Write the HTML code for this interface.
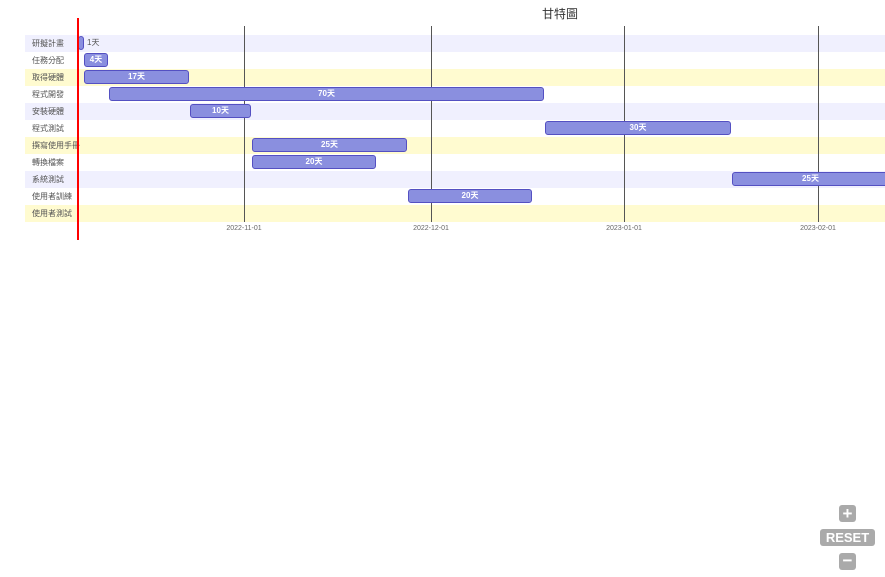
<!DOCTYPE html>
<html><head><meta charset="utf-8"><style>
body{margin:0;width:885px;height:577px;background:#fff;overflow:hidden;position:relative;font-family:"Liberation Sans","Noto Sans CJK TC",sans-serif}
.r{position:absolute;left:25px;width:860px;height:17px}
.l{position:absolute;left:32px;font-size:8px;color:#555;line-height:17px}
.b{position:absolute;height:12px;background:#8a8fdf;border:1.5px solid #5450c2;border-radius:3px;color:#fff;font-size:8px;font-weight:bold;text-align:center;line-height:12px;box-sizing:content-box}
.g{position:absolute;top:26px;height:196px;width:1px;background:#555}
.t{position:absolute;top:225px;font-size:7px;color:#666;width:60px;text-align:center}
.btn{position:absolute;background:#aaa;color:#fff;border-radius:3px;font-weight:bold;text-align:center}
</style></head><body>
<div style="position:absolute;left:520px;top:5px;width:80px;text-align:center;font-size:12px;color:#333">甘特圖</div>
<div class="r" style="top:35px;background:#f0f0fe"></div>
<div class="r" style="top:69px;background:#fffbd0"></div>
<div class="r" style="top:103px;background:#f0f0fe"></div>
<div class="r" style="top:137px;background:#fffbd0"></div>
<div class="r" style="top:171px;background:#f0f0fe"></div>
<div class="r" style="top:205px;background:#fffbd0"></div>
<div class="l" style="top:35px">研擬計畫</div>
<div class="l" style="top:52px">任務分配</div>
<div class="l" style="top:69px">取得硬體</div>
<div class="l" style="top:86px">程式開發</div>
<div class="l" style="top:103px">安裝硬體</div>
<div class="l" style="top:120px">程式測試</div>
<div class="l" style="top:137px">撰寫使用手冊</div>
<div class="l" style="top:154px">轉換檔案</div>
<div class="l" style="top:171px">系統測試</div>
<div class="l" style="top:188px">使用者訓練</div>
<div class="l" style="top:205px">使用者測試</div>
<div class="g" style="left:244px"></div><div class="g" style="left:431px"></div><div class="g" style="left:624px"></div><div class="g" style="left:818px"></div>
<div class="t" style="left:214px">2022-11-01</div><div class="t" style="left:401px">2022-12-01</div><div class="t" style="left:594px">2023-01-01</div><div class="t" style="left:788px">2023-02-01</div>
<div class="b" style="left:78px;top:36px;width:4px"></div>
<div style="position:absolute;left:87px;top:36px;font-size:8px;color:#555;line-height:13px">1天</div>
<div class="b" style="left:84px;top:53px;width:22px">4天</div>
<div class="b" style="left:84px;top:70px;width:103px">17天</div>
<div class="b" style="left:109px;top:87px;width:433px">70天</div>
<div class="b" style="left:190px;top:104px;width:59px">10天</div>
<div class="b" style="left:545px;top:121px;width:184px">30天</div>
<div class="b" style="left:252px;top:138px;width:153px">25天</div>
<div class="b" style="left:252px;top:155px;width:122px">20天</div>
<div class="b" style="left:732px;top:172px;width:155px">25天</div>
<div class="b" style="left:408px;top:189px;width:122px">20天</div>
<div style="position:absolute;left:77px;top:18px;width:1.5px;height:222px;background:#f00"></div>
<div class="btn" style="left:839px;top:505px;width:17px;height:17px;font-size:17px;line-height:17px">+</div>
<div class="btn" style="left:820px;top:529px;width:55px;height:17px;font-size:13px;line-height:17px">RESET</div>
<div class="btn" style="left:839px;top:553px;width:17px;height:17px;font-size:17px;line-height:16px">−</div>
</body></html>
